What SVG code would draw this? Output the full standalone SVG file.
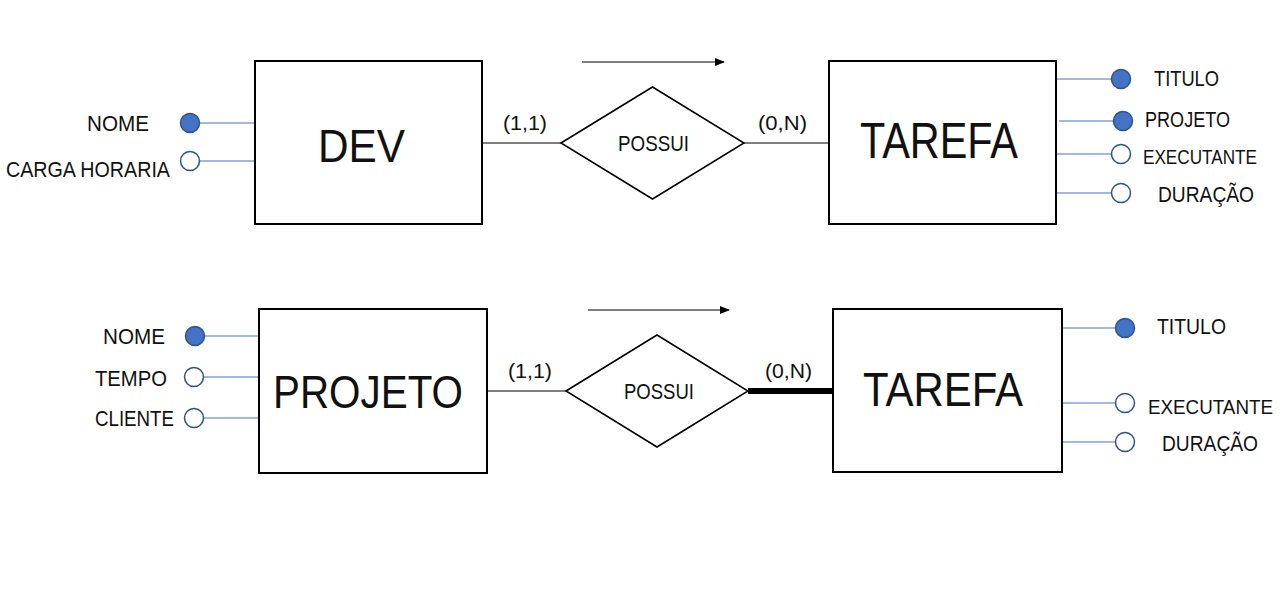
<svg xmlns="http://www.w3.org/2000/svg" width="1280" height="591" viewBox="0 0 1280 591">
<style>
text{font-family:"Liberation Sans",Arial,sans-serif;fill:#111}
.ent{fill:#fff;stroke:#000;stroke-width:2}
.rel{fill:#fff;stroke:#000;stroke-width:1.5}
.big{font-size:47px}
.lbl{font-size:21.5px}
.exe{font-size:19.5px}
.card{font-size:21px}
.aline{stroke:#4472C4;stroke-width:1.2}
.key{fill:#4472C4;stroke:#2F528F;stroke-width:1.5}
.opt{fill:#fff;stroke:#2F528F;stroke-width:1.5}
.conn{stroke:#000;stroke-width:1.2;fill:none}
</style>
<defs>
<marker id="ah" markerWidth="10" markerHeight="8" refX="9" refY="4" orient="auto" markerUnits="userSpaceOnUse">
<path d="M0,0 L10,4 L0,8 Z" fill="#000"/>
</marker>
</defs>
<rect width="1280" height="591" fill="#fff"/>

<g id="connectors">
<line class="conn" x1="482" y1="143" x2="561" y2="143"/>
<line class="conn" x1="744" y1="143" x2="829" y2="143"/>
<line class="conn" x1="582" y1="62" x2="724" y2="62" marker-end="url(#ah)"/>
<line class="conn" x1="487" y1="391" x2="566" y2="391"/>
<line stroke="#000" stroke-width="6" x1="748" y1="391" x2="833" y2="391"/>
<line class="conn" x1="588" y1="310" x2="729" y2="310" marker-end="url(#ah)"/>
<line class="aline" x1="200" y1="123" x2="255" y2="123"/>
<line class="aline" x1="199" y1="161" x2="255" y2="161"/>
<line class="aline" x1="1056" y1="79" x2="1111" y2="79"/>
<line class="aline" x1="1059" y1="121" x2="1113" y2="121"/>
<line class="aline" x1="1056" y1="154" x2="1112" y2="154"/>
<line class="aline" x1="1056" y1="193" x2="1112" y2="193"/>
<line class="aline" x1="205" y1="336" x2="259" y2="336"/>
<line class="aline" x1="203" y1="377" x2="259" y2="377"/>
<line class="aline" x1="203" y1="418" x2="259" y2="418"/>
<line class="aline" x1="1062" y1="328" x2="1115" y2="328"/>
<line class="aline" x1="1062" y1="403" x2="1116" y2="403"/>
<line class="aline" x1="1062" y1="442" x2="1116" y2="442"/>
<text class="card" x="503" y="130" textLength="44" lengthAdjust="spacingAndGlyphs">(1,1)</text>
<text class="card" x="758" y="130" textLength="49" lengthAdjust="spacingAndGlyphs">(0,N)</text>
<text class="card" x="508" y="378" textLength="44" lengthAdjust="spacingAndGlyphs">(1,1)</text>
<text class="card" x="765" y="378" textLength="47" lengthAdjust="spacingAndGlyphs">(0,N)</text>
</g>

<g id="dev">
<rect class="ent" x="255" y="61" width="227" height="163"/>
<text class="big" x="318" y="162" textLength="87" lengthAdjust="spacingAndGlyphs">DEV</text>
</g>
<g id="dev-nome">
<circle class="key" cx="190" cy="123" r="9.5"/>
<text class="lbl" x="87" y="131" textLength="62" lengthAdjust="spacingAndGlyphs">NOME</text>
</g>
<g id="dev-carga">
<circle class="opt" cx="190" cy="161" r="9.5"/>
<text class="lbl" x="6" y="177" textLength="164" lengthAdjust="spacingAndGlyphs">CARGA HORARIA</text>
</g>

<g id="possui1">
<polygon class="rel" points="561,143 652.5,87 744,143 652.5,199"/>
<text class="lbl" x="618" y="151" textLength="71" lengthAdjust="spacingAndGlyphs">POSSUI</text>
</g>

<g id="tarefa1">
<rect class="ent" x="829" y="61" width="227" height="163"/>
<text class="big" x="860" y="158" textLength="158" lengthAdjust="spacingAndGlyphs" style="font-size:50px">TAREFA</text>
</g>
<g id="tarefa1-titulo">
<circle class="key" cx="1121" cy="79" r="9.5"/>
<text class="lbl" x="1154" y="86" textLength="65" lengthAdjust="spacingAndGlyphs">TITULO</text>
</g>
<g id="tarefa1-projeto">
<circle class="key" cx="1123" cy="121" r="9.5"/>
<text class="lbl" x="1145" y="127" textLength="85" lengthAdjust="spacingAndGlyphs">PROJETO</text>
</g>
<g id="tarefa1-executante">
<circle class="opt" cx="1121" cy="154" r="9.5"/>
<text class="exe" x="1143" y="164" textLength="114" lengthAdjust="spacingAndGlyphs">EXECUTANTE</text>
</g>
<g id="tarefa1-duracao">
<circle class="opt" cx="1121" cy="193" r="9.5"/>
<text class="lbl" x="1158" y="202" textLength="96" lengthAdjust="spacingAndGlyphs">DURAÇÃO</text>
</g>

<g id="projeto">
<rect class="ent" x="259" y="309" width="228" height="164"/>
<text class="big" x="273" y="408" textLength="190" lengthAdjust="spacingAndGlyphs" style="font-size:46px">PROJETO</text>
</g>
<g id="projeto-nome">
<circle class="key" cx="195" cy="336" r="9.5"/>
<text class="lbl" x="103" y="344" textLength="62" lengthAdjust="spacingAndGlyphs">NOME</text>
</g>
<g id="projeto-tempo">
<circle class="opt" cx="194" cy="377" r="9.5"/>
<text class="lbl" x="95" y="386" textLength="72" lengthAdjust="spacingAndGlyphs">TEMPO</text>
</g>
<g id="projeto-cliente">
<circle class="opt" cx="194" cy="418" r="9.5"/>
<text class="lbl" x="95" y="426" textLength="79" lengthAdjust="spacingAndGlyphs">CLIENTE</text>
</g>

<g id="possui2">
<polygon class="rel" points="566,391 657,335 748,391 657,447"/>
<text class="lbl" x="624" y="399" textLength="70" lengthAdjust="spacingAndGlyphs">POSSUI</text>
</g>

<g id="tarefa2">
<rect class="ent" x="833" y="309" width="229" height="163"/>
<text class="big" x="863" y="406" textLength="160" lengthAdjust="spacingAndGlyphs" style="font-size:48px">TAREFA</text>
</g>
<g id="tarefa2-titulo">
<circle class="key" cx="1125" cy="328" r="9.5"/>
<text class="lbl" x="1157" y="334" textLength="69" lengthAdjust="spacingAndGlyphs">TITULO</text>
</g>
<g id="tarefa2-executante">
<circle class="opt" cx="1125" cy="403" r="9.5"/>
<text class="exe" x="1148" y="414" textLength="125" lengthAdjust="spacingAndGlyphs">EXECUTANTE</text>
</g>
<g id="tarefa2-duracao">
<circle class="opt" cx="1125" cy="442" r="9.5"/>
<text class="lbl" x="1162" y="451" textLength="96" lengthAdjust="spacingAndGlyphs">DURAÇÃO</text>
</g>
</svg>
